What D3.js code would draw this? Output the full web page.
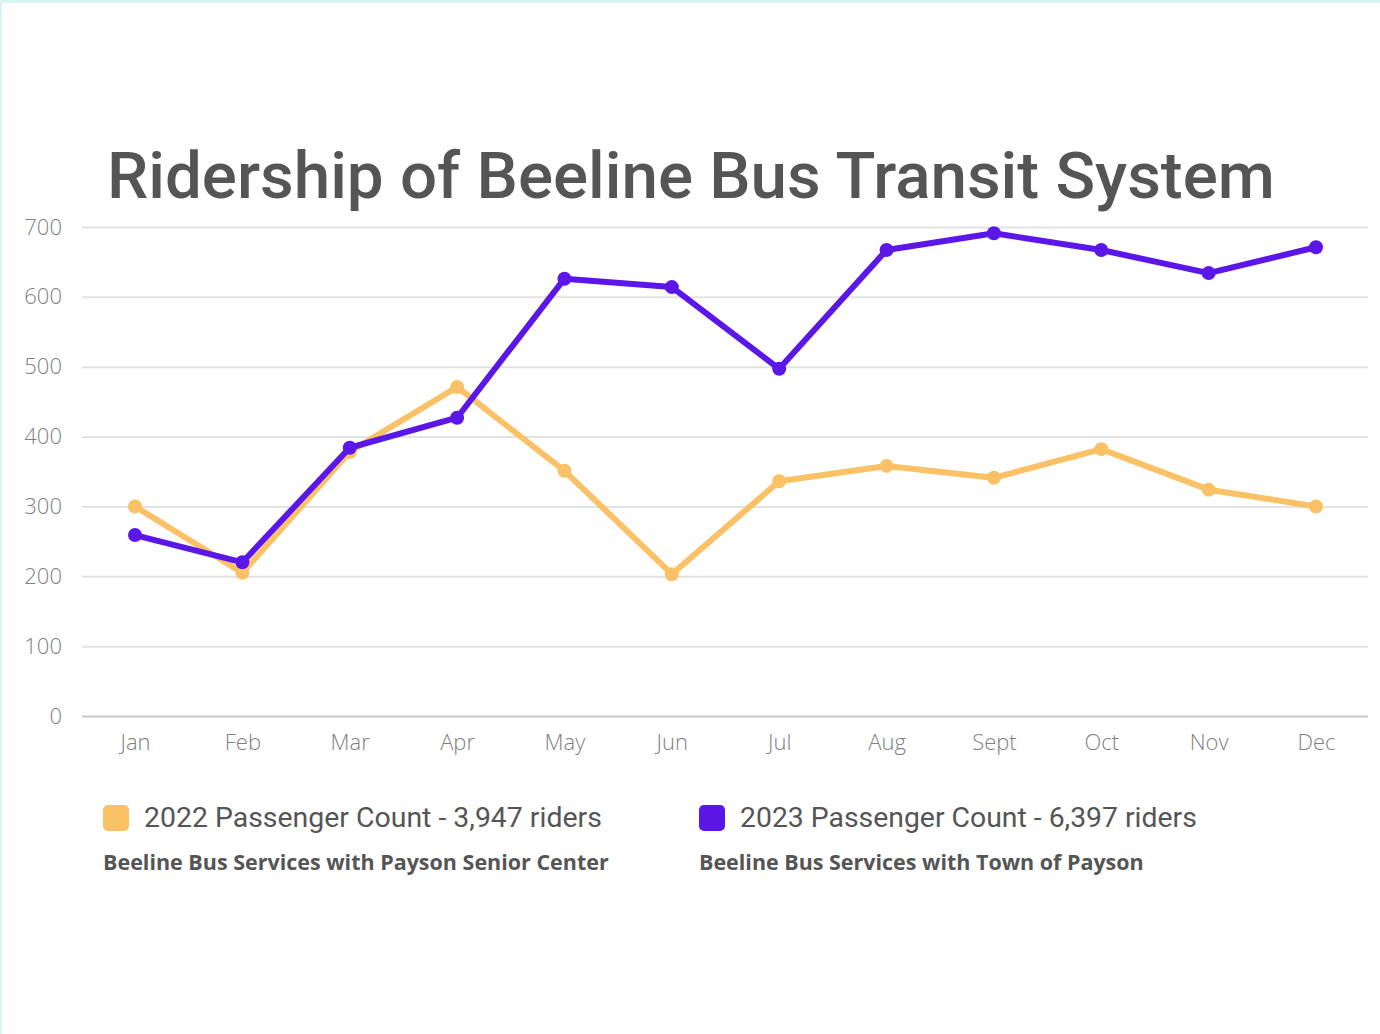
<!DOCTYPE html>
<html>
<head>
<meta charset="utf-8">
<script src="https://cdn.jsdelivr.net/npm/d3@7"></script>
<style>
  body { margin: 0; background: #fff; }
  svg { display: block; }
</style>
</head>
<body>
<script>
var months = ["Jan", "Feb", "Mar", "Apr", "May", "Jun", "Jul", "Aug", "Sept", "Oct", "Nov", "Dec"];
var riders2022 = [300, 205, 378, 471, 351, 203, 336, 358, 341, 382, 324, 300];
var riders2023 = [259, 220, 384, 427, 626, 614, 497, 667, 691, 667, 634, 671];
var yTicks = [0, 100, 200, 300, 400, 500, 600, 700];
var legendLabels = ["2022 Passenger Count - 3,947 riders", "2023 Passenger Count - 6,397 riders"];
var legendNotes = ["Beeline Bus Services with Payson Senior Center", "Beeline Bus Services with Town of Payson"];
var titleText = "Ridership of Beeline Bus Transit System";

var W = 1380, H = 1034;
var colors = ["#fbc166", "#5b17e8"];

var svg = d3.select("body").append("svg")
  .attr("width", W)
  .attr("height", H);

svg.append("rect").attr("width", W).attr("height", H).attr("fill", "#d9f5f4");
svg.append("rect").attr("x", 2).attr("y", 3).attr("width", W - 2).attr("height", H - 3).attr("fill", "#fff");

// scale a text's font size so it spans the given width
function fit(sel, size, width) {
  var w = sel.node().getComputedTextLength();
  sel.style("font-size", (size * width / w) + "px");
}

var title = svg.append("text")
  .attr("x", 107)
  .attr("y", 198)
  .style("font-family", "Roboto, 'Liberation Sans', sans-serif")
  .style("font-weight", 500)
  .style("font-size", "62px")
  .style("fill", "#555555")
  .text(titleText);
fit(title, 62, 1168);

var x = d3.scalePoint().domain(months).range([135, 1316]);
var y = d3.scaleLinear().domain([0, 700]).range([716, 227]);

var yAxis = svg.append("g")
  .attr("transform", "translate(82,0)")
  .call(d3.axisLeft(y).tickValues(yTicks).tickSize(-(1368 - 82)).tickPadding(20));
yAxis.select(".domain").remove();
yAxis.selectAll("line")
  .attr("stroke", function(d) { return d === 0 ? "#c9c9c9" : "#e3e3e3"; })
  .attr("stroke-width", 2);
yAxis.selectAll("text")
  .style("font-family", "'Open Sans', sans-serif")
  .style("font-weight", 300)
  .style("font-size", "22px")
  .style("fill", "#808080");

var xAxis = svg.append("g")
  .attr("transform", "translate(0,716)")
  .call(d3.axisBottom(x).tickSize(0).tickPadding(18));
xAxis.select(".domain").remove();
xAxis.selectAll("text")
  .style("font-family", "'Open Sans', sans-serif")
  .style("font-weight", 300)
  .style("font-size", "22px")
  .style("fill", "#808080");

var series = [riders2022, riders2023];
var line = d3.line()
  .x(function(d, i) { return x(months[i]); })
  .y(function(d) { return y(d); });

series.forEach(function(vals, s) {
  svg.append("path")
    .datum(vals)
    .attr("d", line)
    .attr("fill", "none")
    .attr("stroke", colors[s])
    .attr("stroke-width", 6)
    .attr("stroke-linejoin", "round");
  svg.selectAll(".dot" + s)
    .data(vals)
    .enter()
    .append("circle")
    .attr("class", "dot" + s)
    .attr("cx", function(d, i) { return x(months[i]); })
    .attr("cy", function(d) { return y(d); })
    .attr("r", 7)
    .attr("fill", colors[s]);
});

// legend
var legendX = [103, 699];
var labelWidths = [458, 457];
var noteWidths = [506, 445];
legendLabels.forEach(function(lbl, i) {
  svg.append("rect")
    .attr("x", legendX[i])
    .attr("y", 805)
    .attr("width", 26)
    .attr("height", 26)
    .attr("rx", 5)
    .attr("fill", colors[i]);
  var t = svg.append("text")
    .attr("x", legendX[i] + 41)
    .attr("y", 827)
    .style("font-family", "Roboto, 'Liberation Sans', sans-serif")
    .style("font-size", "25px")
    .style("fill", "#555555")
    .text(lbl);
  fit(t, 25, labelWidths[i]);
  var n = svg.append("text")
    .attr("x", legendX[i])
    .attr("y", 870)
    .style("font-family", "'Open Sans', sans-serif")
    .style("font-weight", 700)
    .style("font-size", "19px")
    .style("fill", "#555555")
    .text(legendNotes[i]);
  fit(n, 19, noteWidths[i]);
});
</script>
</body>
</html>
